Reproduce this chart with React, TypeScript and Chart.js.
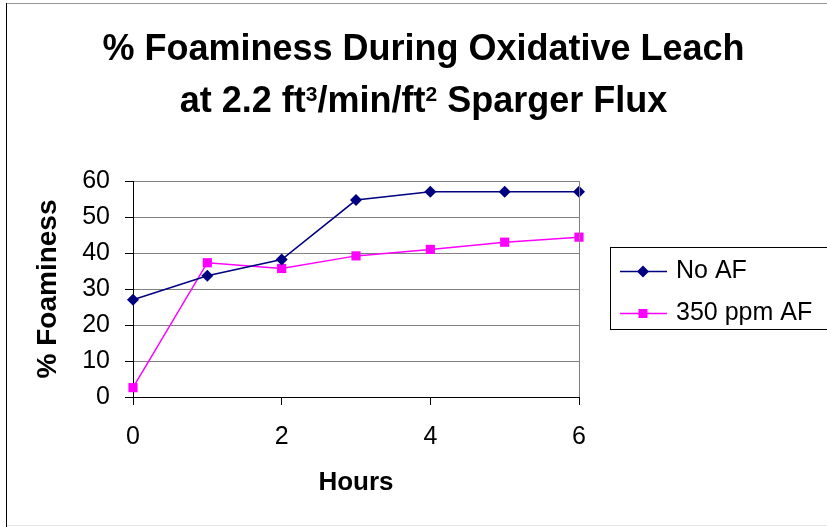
import React, { useEffect, useRef } from "react";
import { Chart, registerables } from "chart.js";

Chart.register(...registerables);

const hours = [0, 1, 2, 3, 4, 5, 6];
const noAF = [27, 33.7, 38.2, 54.7, 57, 57, 57];
const ppm350AF = [2.6, 37.3, 35.7, 39.2, 41, 43, 44.4];
const seriesLabels = ["No AF", "350 ppm AF"];
const seriesColors = ["#000080", "#FF00FF"];
const titleLine1 = "% Foaminess During Oxidative Leach";
const titleLine2Parts = [
  { t: "at 2.2 ft", sup: false },
  { t: "3", sup: true },
  { t: "/min/ft", sup: false },
  { t: "2", sup: true },
  { t: " Sparger Flux", sup: false },
];
const xTitle = "Hours";
const yTitle = "% Foaminess";

const FONT = "'Liberation Sans', Arial, sans-serif";

const decorPlugin = {
  id: "decor",
  beforeDraw(chart: any) {
    const ctx = chart.ctx;
    ctx.save();
    ctx.fillStyle = "#ffffff";
    ctx.fillRect(0, 0, chart.width, chart.height);
    ctx.restore();
  },
  afterDraw(chart: any) {
    const ctx = chart.ctx;
    const area = chart.chartArea;
    ctx.save();
    // outer frame
    ctx.fillStyle = "#999999";
    ctx.fillRect(6, 3, chart.width - 6, 1);
    ctx.fillStyle = "#e4e4e4";
    ctx.fillRect(6, 525, chart.width - 6, 1);
    ctx.fillStyle = "#000000";
    ctx.fillRect(6, 3, 1, chart.height - 3);

    // right plot border
    ctx.strokeStyle = "#808080";
    ctx.lineWidth = 1;
    ctx.beginPath();
    ctx.moveTo(Math.round(area.right) + 0.5, area.top);
    ctx.lineTo(Math.round(area.right) + 0.5, area.bottom);
    ctx.stroke();

    // title
    ctx.fillStyle = "#000000";
    ctx.textBaseline = "alphabetic";
    ctx.textAlign = "left";
    const cx = 423.5;
    ctx.font = `bold 36px ${FONT}`;
    const w1 = ctx.measureText(titleLine1).width;
    ctx.fillText(titleLine1, cx - w1 / 2, 60);
    let total = 0;
    const widths = titleLine2Parts.map((p) => {
      ctx.font = p.sup ? `bold 21px ${FONT}` : `bold 36px ${FONT}`;
      const w = ctx.measureText(p.t).width;
      total += w;
      return w;
    });
    let x = cx - total / 2;
    titleLine2Parts.forEach((p, i) => {
      ctx.font = p.sup ? `bold 21px ${FONT}` : `bold 36px ${FONT}`;
      ctx.fillText(p.t, x, p.sup ? 100.5 : 112);
      x += widths[i];
    });

    // legend
    ctx.strokeStyle = "#000000";
    ctx.lineWidth = 1;
    ctx.strokeRect(610.5, 247.5, 300, 82);
    const rowsY = [271.5, 313.5];
    chart.data.datasets.forEach((ds: any, i: number) => {
      const y = rowsY[i];
      ctx.strokeStyle = ds.borderColor;
      ctx.lineWidth = 1.5;
      ctx.beginPath();
      ctx.moveTo(620, y);
      ctx.lineTo(667, y);
      ctx.stroke();
      ctx.fillStyle = ds.backgroundColor;
      const mx = 643;
      if (ds.pointStyle === "rectRot") {
        const r = 6;
        ctx.beginPath();
        ctx.moveTo(mx, y - r);
        ctx.lineTo(mx + r, y);
        ctx.lineTo(mx, y + r);
        ctx.lineTo(mx - r, y);
        ctx.closePath();
        ctx.fill();
      } else {
        ctx.fillRect(mx - 4.5, y - 4.5, 9, 9);
      }
      ctx.fillStyle = "#000000";
      ctx.font = `25px ${FONT}`;
      ctx.textBaseline = "middle";
      ctx.fillText(ds.label, 676, y);
    });
    ctx.restore();
  },
};

export default function App() {
  const ref = useRef<HTMLCanvasElement | null>(null);
  useEffect(() => {
    if (!ref.current) return;
    const chart = new Chart(ref.current, {
      type: "line",
      data: {
        datasets: [
          {
            label: seriesLabels[0],
            data: hours.map((h, i) => ({ x: h, y: noAF[i] })),
            borderColor: seriesColors[0],
            backgroundColor: seriesColors[0],
            pointStyle: "rectRot",
            pointRadius: 6,
            pointBorderWidth: 0,
            borderWidth: 1.5,
            clip: false,
          },
          {
            label: seriesLabels[1],
            data: hours.map((h, i) => ({ x: h, y: ppm350AF[i] })),
            borderColor: seriesColors[1],
            backgroundColor: seriesColors[1],
            pointStyle: "rect",
            pointRadius: 6.5,
            pointBorderWidth: 0,
            borderWidth: 1.5,
            clip: false,
          },
        ],
      },
      options: {
        responsive: false,
        animation: false,
        devicePixelRatio: 1,
        layout: { padding: { left: 0, right: 248, top: 181, bottom: 0 } },
        plugins: {
          legend: { display: false },
          title: { display: false },
          tooltip: { enabled: false },
        },
        scales: {
          x: {
            type: "linear",
            min: 0,
            max: 6,
            afterFit: (s: any) => {
              s.height = 130;
            },
            ticks: {
              stepSize: 2,
              color: "#000000",
              padding: 17,
              font: { family: FONT, size: 25 },
            },
            grid: {
              drawOnChartArea: false,
              tickLength: 8,
              tickColor: "#000000",
            },
            border: { color: "#000000", width: 1 },
            title: {
              display: true,
              text: xTitle,
              color: "#000000",
              font: { family: FONT, size: 26, weight: "bold" },
              padding: { top: 0, bottom: 29 },
            },
          },
          y: {
            min: 0,
            max: 60,
            afterFit: (s: any) => {
              s.width = 133;
            },
            ticks: {
              stepSize: 10,
              color: "#000000",
              padding: 15,
              font: { family: FONT, size: 25 },
            },
            grid: {
              color: "#808080",
              tickLength: 8,
              tickColor: "#000000",
            },
            border: { color: "#000000", width: 1 },
            title: {
              display: true,
              text: yTitle,
              color: "#000000",
              font: { family: FONT, size: 28, weight: "bold" },
              padding: { top: 31.5, bottom: 0 },
            },
          },
        },
      },
      plugins: [decorPlugin],
    } as any);
    return () => chart.destroy();
  }, []);
  return (
    <div style={{ position: "absolute", left: 0, top: 0, width: 827, height: 527, overflow: "hidden" }}>
      <canvas ref={ref} width={827} height={527} style={{ display: "block" }} />
    </div>
  );
}
